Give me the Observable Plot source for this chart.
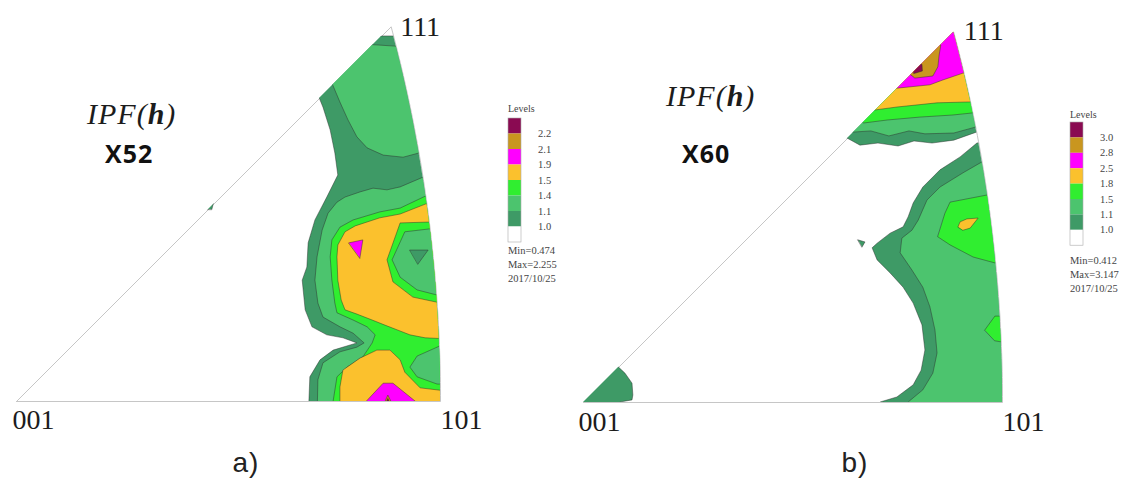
<!DOCTYPE html>
<html>
<head>
<meta charset="utf-8">
<script src="https://cdn.jsdelivr.net/npm/d3@7"></script>
<script src="https://cdn.jsdelivr.net/npm/@observablehq/plot@0.6"></script>
<style>
  html, body { margin: 0; padding: 0; background: #ffffff; }
  #wrap { position: relative; width: 1137px; height: 479px; overflow: hidden; background: #ffffff; }
  .panel { position: absolute; top: 0; }
  .panel svg { display: block; max-width: none; background: transparent; }
  #overlay { position: absolute; left: 0; top: 0; pointer-events: none; }
</style>
</head>
<body>
<div id="wrap"></div>
<script>
// ---------------- data ----------------
// colour of each level band, from "below the first level" (white) up to the top band
const bandColors = ["#ffffff", "#3e9a66", "#4cc46e", "#30ee30", "#fbc12d", "#ff00ff", "#c9961f", "#8a0a52"];
const levelsA = [1.0, 1.1, 1.4, 1.5, 1.9, 2.1, 2.2];
const levelsB = [1.0, 1.1, 1.5, 1.8, 2.5, 2.8, 3.0];
const minMaxA = [0.474, 2.255];
const minMaxB = [0.412, 3.147];
const dateA = "2017/10/25";
const dateB = "2017/10/25";
const poleLabels = ["001", "101", "111"];
const steelNames = ["X52", "X60"];
const panelTags = ["a)", "b)"];

// contour regions (superlevel polygons, drawn in order), in stereographic units
// scaled so that 001 = (0,0) and 101 = (1000,0); [band lower level, points]
const regionsA = [
  [1.0, [[682,745],[830,861],[894,861],[1071,861],[1071,-45],[689,-45],[693,57],[717,97],[748,120],[804,137],[771,149],[733,156],[698,175],[682,215],[675,285],[686,316],[689,373],[705,427],[733,481],[759,533],[752,585],[741,639],[724,693],[715,715]]],
  [1.0, [[448,452],[466,468],[462,452]]],
  [1.1, [[736,776],[816,842],[894,837],[1071,837],[1071,592],[958,587],[913,575],[866,580],[828,597],[804,623],[783,663],[764,705],[748,743]]],
  [1.1, [[1071,528],[960,528],[906,505],[875,498],[842,502],[811,493],[776,481],[757,469],[736,443],[722,403],[710,340],[705,285],[712,231],[724,198],[764,175],[795,160],[821,137],[804,127],[764,116],[724,90],[712,50],[710,-45],[1071,-45]]],
  [1.4, [[1071,483],[965,483],[906,455],[858,446],[795,427],[764,410],[745,380],[741,340],[745,285],[752,231],[757,208],[795,191],[828,175],[847,156],[840,137],[818,104],[781,80],[757,57],[748,0],[748,-45],[1071,-45]]],
  [1.5, [[1071,465],[967,465],[906,441],[858,432],[800,413],[776,399],[759,368],[757,340],[759,285],[767,238],[776,215],[804,205],[840,191],[870,179],[901,167],[929,156],[965,149],[1071,144]]],
  [1.5, [[764,-45],[764,33],[771,73],[811,101],[851,120],[882,120],[906,97],[917,68],[953,31],[1071,17],[1071,-45]]],
  [1.9, [[807,-21],[866,42],[889,42],[967,-21]]],
  [2.1, [[866,-10],[877,14],[889,-10]]],
  [2.2, [[872,-5],[877,6],[882,-5]]],
  [1.4, [[1071,422],[972,422],[906,420],[875,333],[889,281],[936,245],[993,233],[1071,231]]],
  [1.1, [[1071,403],[976,406],[917,399],[887,333],[906,292],[946,262],[993,250],[1071,248]]],
  [1.0, [[929,356],[972,356],[948,323]]],
  [1.9, [[785,373],[818,380],[811,337]]],
  [1.1, [[1071,132],[1000,130],[946,106],[929,80],[946,57],[993,40],[1071,38]]]
];

const regionsB = [
  [1.0, [[601,625],[900,912],[1043,912],[1043,647],[947,647],[885,625],[833,618],[790,623],[752,611],[704,618],[661,613],[630,630]]],
  [1.1, [[613,649],[900,912],[1043,912],[1043,656],[936,656],[885,642],[816,640],[778,647],[730,635],[687,647],[642,644]]],
  [1.5, [[637,685],[900,912],[1043,912],[1043,692],[931,690],[883,685],[804,680],[726,673],[671,666]]],
  [1.8, [[661,721],[900,912],[1043,912],[1043,718],[916,716],[845,714],[749,704],[697,697]]],
  [2.5, [[721,768],[900,912],[1043,912],[1043,788],[907,785],[857,768],[828,757],[749,749]]],
  [2.8, [[828,864],[854,852],[850,828],[847,800],[835,778],[792,773],[768,792]]],
  [3.0, [[780,802],[809,806],[810,790],[790,784]]],
  [1.0, [[1043,618],[1043,-43],[709,-43],[709,0],[749,12],[788,41],[807,76],[816,124],[809,184],[788,236],[764,274],[733,308],[702,339],[690,368],[702,379],[733,403],[764,418],[776,442],[788,475],[811,513],[852,554],[900,585],[940,618]]],
  [1.1, [[1043,573],[952,573],[907,547],[852,513],[821,482],[800,434],[785,410],[761,391],[757,356],[785,315],[811,274],[828,227],[840,172],[845,117],[835,69],[811,29],[776,0],[776,-43],[1043,-43]]],
  [1.5, [[864,451],[876,477],[964,494],[1043,494],[1043,327],[983,332],[931,346],[876,375],[847,394]]],
  [1.8, [[895,418],[900,430],[916,437],[943,439],[924,415],[907,410]]],
  [1.5, [[959,172],[983,205],[1043,205],[1043,136],[983,146]]],
  [1.0, [[656,387],[673,382],[666,370]]],
  [1.0, [[-30,-30],[-30,20],[70,90],[84,84],[100,69],[117,45],[119,17],[117,5],[88,0],[88,-30]]]
];

// ---------------- geometry of the standard triangle ----------------
// 101-111 boundary: circle centred at (-(sqrt2+1), 0) with radius (2+sqrt2), in the same units
const arcC = -1000 * (Math.SQRT2 + 1);
const arcR = 1000 * (2 + Math.SQRT2);
const outline = [[0, 0]];
for (let i = 0; i <= 60; i++) {
  const t = (15 * i / 60) * Math.PI / 180;
  outline.push([arcC + arcR * Math.cos(t), arcR * Math.sin(t)]);
}
outline.push([0, 0]);
const apex = outline[outline.length - 2];

const wrap = document.getElementById("wrap");

function drawPanel(id, cfg) {
  const {left, w, h, ox, oy, s, regions, levels, off} = cfg;
  const color = d3.scaleThreshold().domain(levels).range(bandColors);
  const serif = "'Liberation Serif', 'Times New Roman', serif";
  const poles = [[0, 0], [1000, 0], apex];
  const marks = [
    Plot.line(outline, {x: d => d[0], y: d => d[1], stroke: "#c6c6c6", strokeWidth: 1})
  ];
  regions.forEach(([lv, pts]) => {
    marks.push(Plot.line(pts, {
      x: d => d[0], y: d => d[1], curve: "linear-closed",
      fill: color(lv), stroke: "#2b2b2b", strokeWidth: 0.6, strokeOpacity: 0.75
    }));
  });
  poleLabels.forEach((lab, i) => {
    marks.push(Plot.text([poles[i]], {
      x: d => d[0], y: d => d[1], text: () => lab,
      dx: off[i][0], dy: off[i][1], textAnchor: "start", lineAnchor: "bottom",
      fontSize: 28, fontFamily: serif, fill: "#1c1c1c"
    }));
  });
  const chart = Plot.plot({
    width: w, height: h, margin: 0,
    style: {background: "transparent", overflow: "visible"},
    x: {domain: [-ox / s * 1000, (w - ox) / s * 1000], axis: null},
    y: {domain: [-(h - oy) / s * 1000, oy / s * 1000], axis: null},
    marks
  });
  // clip the contour fills to the triangle
  let X = u => ox + u / 1000 * s, Y = v => oy - v / 1000 * s;
  try {
    const sx = chart.scale("x"), sy = chart.scale("y");
    if (sx && sx.apply && sy && sy.apply) { X = u => sx.apply(u); Y = v => sy.apply(v); }
  } catch (e) {}
  const ns = "http://www.w3.org/2000/svg";
  const defs = document.createElementNS(ns, "defs");
  const cp = document.createElementNS(ns, "clipPath");
  cp.setAttribute("id", id + "-clip");
  const p = document.createElementNS(ns, "path");
  p.setAttribute("d", "M" + outline.map(([u, v]) => X(u).toFixed(2) + "," + Y(v).toFixed(2)).join("L") + "Z");
  cp.appendChild(p); defs.appendChild(cp);
  chart.insertBefore(defs, chart.firstChild);
  const lineGroups = chart.querySelectorAll('g[aria-label="line"]');
  lineGroups.forEach((g, i) => {
    if (i === 0) return; // the triangle outline itself
    g.setAttribute("clip-path", `url(#${id}-clip)`);
    g.removeAttribute("transform");
  });
  const div = document.createElement("div");
  div.className = "panel";
  div.style.left = left + "px";
  div.appendChild(chart);
  wrap.appendChild(div);
}

drawPanel("pa", {left: 0, w: 500, h: 440, ox: 16, oy: 401, s: 424, regions: regionsA, levels: levelsA,
  off: [[-4, 27], [0, 27], [9, 9]]});
drawPanel("pb", {left: 570, w: 480, h: 440, ox: 13, oy: 402, s: 419, regions: regionsB, levels: levelsB,
  off: [[-5, 28], [0, 28], [10, 8]]});

// ---------------- annotations and legends ----------------
const ov = d3.create("svg").attr("id", "overlay").attr("width", 1137).attr("height", 479);
const serifF = "'Liberation Serif', 'Times New Roman', serif";

function ipf(x, y) {
  const t = ov.append("text").attr("x", x).attr("y", y)
    .attr("font-family", serifF).attr("font-style", "italic").attr("font-size", 30)
    .attr("letter-spacing", 1).attr("fill", "#1c1c1c");
  t.append("tspan").text("IPF(");
  t.append("tspan").attr("font-weight", "bold").text("h");
  t.append("tspan").text(")");
}
ipf(87, 124);
ipf(666, 106);

[[105, 163], [682, 163]].forEach(([x, y], i) => {
  ov.append("text").attr("x", x).attr("y", y).attr("font-family", "'Open Sans', 'DejaVu Sans', sans-serif")
    .attr("font-weight", 700).attr("font-size", 25).attr("letter-spacing", 1).attr("fill", "#111").text(steelNames[i]);
});
[[246, 472], [855, 472]].forEach(([x, y], i) => {
  ov.append("text").attr("x", x).attr("y", y).attr("text-anchor", "middle")
    .attr("font-family", "'Liberation Sans', Arial, sans-serif").attr("font-size", 28)
    .attr("letter-spacing", 1).attr("fill", "#222").text(panelTags[i]);
});

function legend(x, top, sh, titleY, statY, levels, mm, date) {
  const g = ov.append("g").attr("font-family", serifF).attr("fill", "#444");
  g.append("text").attr("x", x).attr("y", titleY).attr("font-size", 10).text("Levels");
  const cols = bandColors.slice().reverse();
  cols.forEach((c, i) => {
    g.append("rect").attr("x", x).attr("y", top + i * sh).attr("width", 13).attr("height", sh).attr("fill", c);
  });
  g.append("rect").attr("x", x).attr("y", top).attr("width", 13).attr("height", sh * cols.length)
    .attr("fill", "none").attr("stroke", "#aaa").attr("stroke-width", 0.6);
  levels.slice().reverse().forEach((lv, i) => {
    g.append("text").attr("x", x + 30).attr("y", top + (i + 1) * sh + 3.5).attr("font-size", 10.5).text(lv.toFixed(1));
  });
  g.append("text").attr("x", x).attr("y", statY).attr("font-size", 10.5).text("Min=" + mm[0].toFixed(3));
  g.append("text").attr("x", x).attr("y", statY + 14).attr("font-size", 10.5).text("Max=" + mm[1].toFixed(3));
  g.append("text").attr("x", x).attr("y", statY + 28).attr("font-size", 10.5).text(date);
}
legend(508, 118, 15.5, 112, 254, levelsA, minMaxA, dateA);
legend(1070, 122, 15.4, 118, 264, levelsB, minMaxB, dateB);

wrap.appendChild(ov.node());
</script>
</body>
</html>
